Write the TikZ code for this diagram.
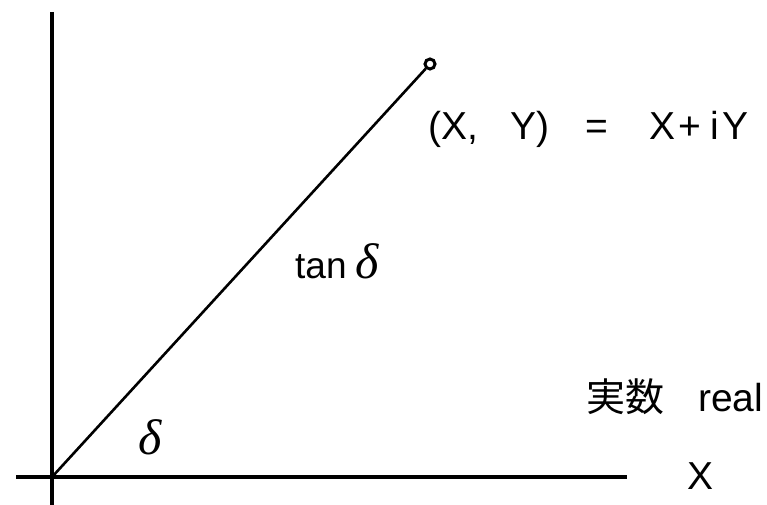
\documentclass[tikz,border=0pt]{standalone}
\usepackage{fontspec}
\setmainfont{Liberation Sans}
\newfontfamily\jpfont{Noto Sans CJK JP}
\newfontfamily\grkfont{Liberation Serif}
\newcommand{\dlt}{{\grkfont\itshape\fontsize{50}{50}\selectfont δ}}
\begin{document}
\begin{tikzpicture}[x=1pt,y=-1pt,
  axisline/.style={line width=4pt},
  vecline/.style={line width=2.6pt},
  lbl/.style={inner sep=0pt, font=\fontsize{39}{39}\selectfont},
  smalllbl/.style={inner sep=0pt, font=\fontsize{37}{37}\selectfont}]
\useasboundingbox (0,0) rectangle (767,505);
% axes
\coordinate (ytop) at (52,12);
\coordinate (ybot) at (52,505);
\coordinate (xleft) at (16,477);
\coordinate (xright) at (627,477);
\coordinate (O) at (52,477);
\draw[axisline] (ytop) -- (ybot);
\draw[axisline] (xleft) -- (xright);
% point
\node[circle, draw, line width=3pt, fill=white, minimum size=10pt, inner sep=0pt] (P) at (430,64) {};
\draw[vecline] (O) -- (P);
% labels
\node[lbl, anchor=base west] (eq) at (428,140) {(X,\hspace{32pt}Y)\hspace{36pt}=\hspace{42pt}X\hspace{3pt}+\hspace{9pt}i\hspace{3pt}Y};
\node[smalllbl, anchor=base west] (tan) at (295,278) {tan\hspace{9pt}\dlt};
\node[inner sep=0pt, anchor=center] (delta) at (150,437) {\dlt};
\node[lbl, anchor=base west] (real) at (586,411) {{\jpfont 実数}\hspace{34pt}real};
\node[lbl, anchor=center] (xlab) at (700,476) {X};
\end{tikzpicture}
\end{document}
